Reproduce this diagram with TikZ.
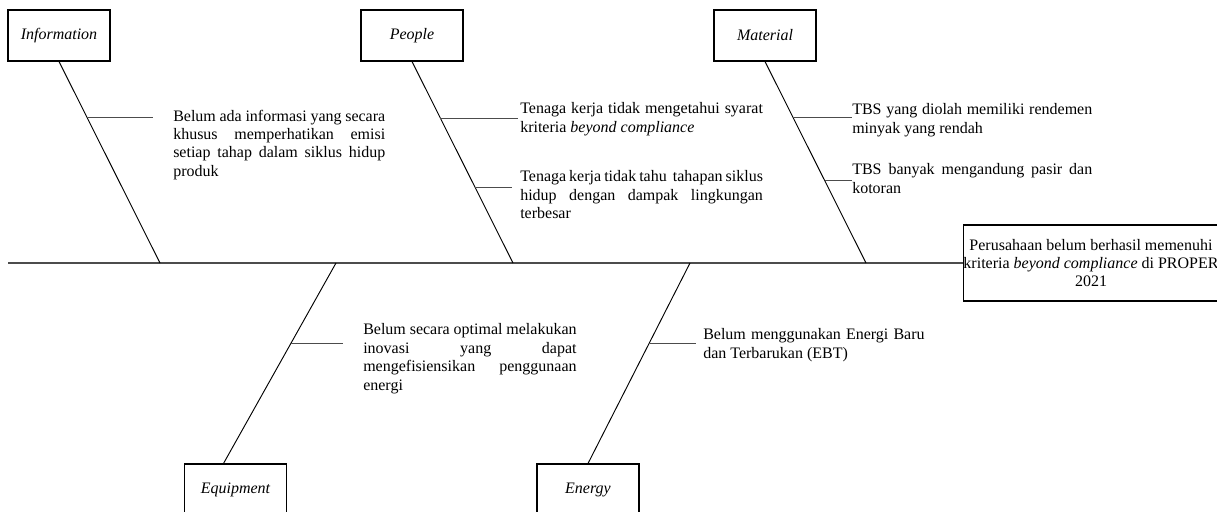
\documentclass[tikz,border=0pt]{standalone}
\usepackage{fontspec}
\setmainfont{Liberation Serif}
\hyphenpenalty=10000
\begin{document}
\begin{tikzpicture}[x=0.75pt, y=-0.75pt,
        cat/.style={rectangle, draw=black, line width=0.8pt, minimum width=76.5pt, minimum height=38.25pt, inner sep=0pt, font=\fontsize{12}{13.8}\selectfont\itshape},
        cause/.style={anchor=north west, inner sep=0pt, align=justify, font=\fontsize{12}{13.8}\selectfont},
        head/.style={rectangle, draw=black, line width=0.8pt, minimum width=186pt, minimum height=57pt, inner sep=0pt, align=center, font=\fontsize{12}{13.8}\selectfont},
        spine/.style={draw=black!70, line width=1.2pt},
        bone/.style={draw=black, line width=0.7pt},
        sub/.style={draw=black!70, line width=1pt}
      ]
\useasboundingbox (0,0) rectangle (1217,511);

% categories and effect
\node[cat] (info) at (59,35.5) {Information};
\node[cat] (people) at (412,35.5) {People};
\node[cat] (material) at (765,35.5) {Material};
\node[cat] (equip) at (235.5,489.5) {Equipment};
\node[cat] (energy) at (588,489.5) {Energy};
\node[head] (effect) at (1091,263) {Perusahaan belum berhasil memenuhi\\ kriteria \textit{beyond compliance} di PROPER\\ 2021};

% spine
\coordinate (tail) at (8,263);
\coordinate (sInfo) at (160,263);
\coordinate (sPeople) at (513,263);
\coordinate (sMaterial) at (866,263);
\coordinate (sEquip) at (336,263);
\coordinate (sEnergy) at (690,263);
\draw[spine] (tail) -- (effect.west);

% bones
\draw[bone] (info.south) -- coordinate[pos=0.277] (infoA) (sInfo);
\draw[bone] (people.south) -- coordinate[pos=0.282] (peopleA) coordinate[pos=0.624] (peopleB) (sPeople);
\draw[bone] (material.south) -- coordinate[pos=0.277] (materialA) coordinate[pos=0.589] (materialB) (sMaterial);
\draw[bone] (sEquip) -- coordinate[pos=0.403] (equipA) ([xshift=-9pt]equip.north);
\draw[bone] (sEnergy) -- coordinate[pos=0.403] (energyA) (energy.north);

% causes
\node[cause, text width=159pt] (infotxt) at (173,109.6) {Belum ada informasi yang secara\linebreak khusus memperhatikan emisi\linebreak setiap tahap dalam siklus hidup\linebreak produk};
\node[cause, text width=182pt] (peopletxt1) at (520,102.6) {Tenaga kerja tidak mengetahui syarat\linebreak kriteria \textit{beyond compliance}};
\node[cause, text width=182pt] (peopletxt2) at (520,170.6) {Tenaga kerja tidak tahu\ \ tahapan siklus\linebreak hidup dengan dampak lingkungan\linebreak terbesar};
\node[cause, text width=180pt] (materialtxt1) at (852,103.6) {TBS yang diolah memiliki rendemen\linebreak minyak yang rendah};
\node[cause, text width=180pt] (materialtxt2) at (852,163.6) {TBS banyak mengandung pasir dan\linebreak kotoran};
\node[cause, text width=160pt] (equiptxt) at (363,323.6) {Belum secara optimal melakukan\linebreak inovasi yang dapat\linebreak mengefisiensikan penggunaan\linebreak energi};
\node[cause, text width=166pt] (energytxt) at (703,328.6) {Belum menggunakan Energi Baru\linebreak dan Terbarukan (EBT)};

% sub bones
\draw[sub, shorten >=15pt] (infoA) -- (infoA -| infotxt.west);
\draw[sub, shorten >=1.5pt] (peopleA) -- (peopleA -| peopletxt1.west);
\draw[sub, shorten >=6pt] (peopleB) -- (peopleB -| peopletxt2.west);
\draw[sub] (materialA) -- (materialA -| materialtxt1.west);
\draw[sub] (materialB) -- (materialB -| materialtxt2.west);
\draw[sub, shorten >=15pt] (equipA) -- (equipA -| equiptxt.west);
\draw[sub, shorten >=5pt] (energyA) -- (energyA -| energytxt.west);
\end{tikzpicture}
\end{document}
